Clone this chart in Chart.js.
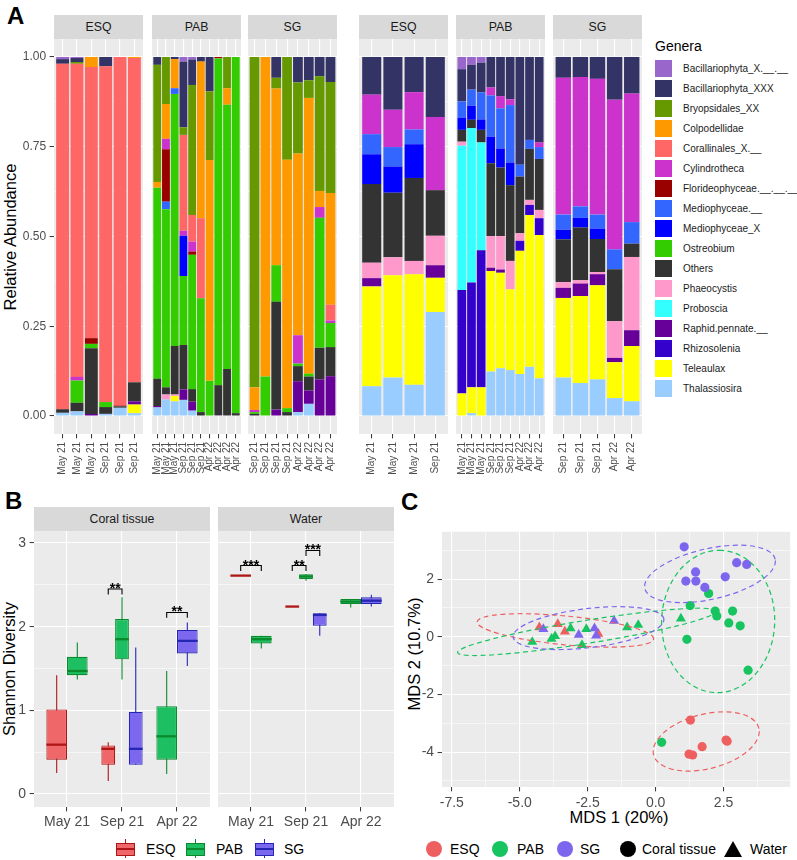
<!DOCTYPE html>
<html>
<head>
<meta charset="utf-8">
<title>Microeukaryote genera, Shannon diversity and MDS</title>
<script src="https://cdn.jsdelivr.net/npm/chart.js@4.4.1/dist/chart.umd.min.js"></script>
<style>
  body { margin: 0; background: #fff; font-family: "Liberation Sans", Arial, sans-serif; }
  #fig { position: relative; width: 797px; height: 860px; overflow: hidden; background: #fff; }
  #fig canvas { position: absolute; }
  .tag { position: absolute; font-size: 24px; font-weight: bold; line-height: 24px; color: #000; }
  .strip { position: absolute; background: #D9D9D9; color: #1A1A1A; font-size: 12.3px; height: 24px; line-height: 24px; text-align: center; }
  .axtitle { position: absolute; font-size: 16.5px; color: #000; white-space: nowrap; transform: translate(-50%, -50%); }
  .axtitle.rot { transform: translate(-50%, -50%) rotate(-90deg); }
  .leg { position: absolute; font-size: 14px; line-height: 16px; color: #000; white-space: nowrap; }
  .gkey { position: absolute; width: 17px; height: 17px; }
  .glab { position: absolute; font-size: 10px; line-height: 17px; color: #1A1A1A; white-space: nowrap; }
  .dot { position: absolute; width: 16px; height: 16px; border-radius: 50%; }
</style>
</head>
<body>
<div id="fig">
  <div class="tag" style="left:7px;top:4px">A</div>
  <div class="tag" style="left:5px;top:489px">B</div>
  <div class="tag" style="left:401px;top:490px">C</div>

  <div class="axtitle rot" style="left:10px;top:237px">Relative Abundance</div>
  <div class="axtitle rot" style="left:9px;top:669px">Shannon Diversity</div>
  <div class="axtitle rot" style="left:414px;top:654px">MDS 2 (10.7%)</div>
  <div class="axtitle" style="left:619px;top:817px">MDS 1 (20%)</div>

  <div class="leg" style="left:655px;top:38px;font-size:14px">Genera</div>
</div>

<script>
// ---------- Panel A: relative abundance per sample ----------
// facets: coral ESQ, coral PAB, coral SG, water ESQ, water PAB, water SG
const facetNames = ['ESQ', 'PAB', 'SG', 'ESQ', 'PAB', 'SG'];
const facetSizes = [6, 10, 8, 4, 9, 5];
const sampleLabels = [
  'May 21', 'May 21', 'May 21', 'Sep 21', 'Sep 21', 'Sep 21',
  'May 21', 'May 21', 'May 21', 'Sep 21', 'Sep 21', 'Sep 21', 'Apr 22', 'Apr 22', 'Apr 22', 'Apr 22',
  'Sep 21', 'Sep 21', 'Sep 21', 'Sep 21', 'Apr 22', 'Apr 22', 'Apr 22', 'Apr 22',
  'May 21', 'May 21', 'May 21', 'Sep 21',
  'May 21', 'May 21', 'May 21', 'Sep 21', 'Sep 21', 'Sep 21', 'Apr 22', 'Apr 22', 'Apr 22',
  'Sep 21', 'Sep 21', 'Sep 21', 'Apr 22', 'Apr 22'
];

// one value per sample, in the sample order above
const bacillariophytaX = [.006,.003,0,0,0,0,  0,0,0,.013,.007,0,0,0,0,0,  0,0,0,0,0,0,0,0,  0,0,0,0,  .034,.022,.016,0,0,0,0,0,0,  0,0,0,0,0];
const bacillariophytaXXX = [.013,.011,0,.026,0,0,  .022,0,.006,.183,.071,.013,.096,0,0,0,  0,0,.058,0,.071,.065,.054,.070,  .105,.147,.098,.167,  .090,.069,.083,.085,.109,.118,.300,.231,.238,  .058,.056,.061,.119,.102];
const bryopsidales = [0,.005,0,0,0,0,  .326,.131,0,.021,.362,0,.191,0,.087,0,  .920,0,.030,.286,.198,.049,.319,.309,  0,0,0,0,  0,0,0,0,0,0,0,0,0,  0,0,0,0,0];
const colpodellidae = [0,0,.028,0,0,.003,  .016,.097,.081,0,0,.436,.615,0,.046,0,  .063,.890,.492,.692,.506,.768,.045,.311,  0,0,0,0,  0,0,0,0,0,0,0,0,0,  0,0,0,0,0];
const corallinales = [.962,.872,.755,.935,.971,.903,  0,0,0,.267,.074,.223,0,0,0,0,  0,0,0,0,0,0,0,.044,  0,0,0,0,  0,0,0,0,0,0,0,0,0,  0,0,0,0,0];
const cylindrotheca = [0,.010,0,0,0,0,  0,.029,0,.014,.028,0,0,0,0,0,  .006,0,0,0,.079,0,.030,.007,  .110,.104,.104,.204,  0,0,0,.022,.034,.016,0,0,.013,  .381,.360,.378,.417,.358];
const florideophyceae = [0,0,.016,0,.002,0,  0,.146,0,0,.009,0,0,.004,0,0,  0,0,0,0,0,0,0,0,  0,0,0,0,  0,0,0,0,0,0,0,0,0,  0,0,0,0,0];
const mediophyceaeDot = [0,0,0,0,0,0,  0,.021,.016,0,0,0,0,0,0,0,  0,0,0,0,0,0,0,0,  .056,.054,.041,0,  .045,.045,.075,.115,.112,.160,.033,.025,.033,  .042,.032,.039,.055,.060];
const mediophyceaeX = [0,0,0,0,0,0,  0,0,0,.112,0,0,0,0,0,0,  0,0,0,0,0,0,0,0,  .083,.073,.094,0,  .034,.039,.029,.074,.053,.063,0,0,0,  .027,.027,.029,0,0];
const ostreobium = [0,.062,.012,.014,0,0,  .532,.496,.702,.192,.374,.317,.098,.910,.736,.992,  .005,.110,.102,.011,.007,.008,.362,.067,  0,0,0,0,  0,0,0,0,0,0,0,0,0,  0,0,0,0,0];
const others = [.010,.024,.183,.019,.004,.053,  .076,.020,.135,.124,.035,.011,0,.084,.131,.008,  .006,0,.300,.011,.042,.039,.088,.081,  .219,.180,.231,.127,  .033,.023,.035,.203,.191,.211,.158,.142,.142,  .119,.147,.092,.145,.037];
const phaeocystis = [0,0,0,0,0,0,  0,.014,.004,0,0,0,0,0,0,0,  0,0,0,0,0,0,0,0,  .043,.050,.037,.082,  .011,0,0,.088,.093,.079,.021,.014,.023,  .016,.009,.006,.102,.204];
const proboscia = [0,0,0,0,0,0,  0,0,0,0,0,0,0,0,0,0,  0,0,0,0,0,0,0,0,  0,0,0,0,  .402,.430,.300,0,0,0,0,0,0,  0,0,0,0,0];
const raphidPennate = [0,0,.006,0,0,.009,  .004,0,0,.029,.025,0,0,.002,0,0,  0,0,.018,0,.086,.037,.102,.111,  .023,0,0,.035,  0,0,0,.009,.009,0,0,0,0,  .028,.035,.031,.012,.044];
const rhizosolenia = [0,0,0,0,0,0,  0,0,0,0,0,0,0,0,0,0,  0,0,0,0,0,0,0,0,  0,0,0,0,  .288,.292,.382,0,0,0,.028,.028,.047,  0,0,0,0,0];
const teleaulax = [0,0,0,0,0,.024,  0,0,.015,0,0,0,0,0,0,0,  0,0,0,0,0,0,0,0,  .278,.285,.308,.095,  .063,.072,.080,.280,.266,.225,.343,.423,.399,  .222,.242,.262,.100,.154];
const thalassiosira = [.009,.013,0,.006,.023,.008,  .024,.046,.041,.045,.015,0,0,0,0,0,  0,0,0,0,.011,.034,0,0,  .083,.107,.087,.290,  0,.008,0,.124,.133,.128,.117,.137,.105,  .107,.092,.102,.050,.041];

const generaNames = ['Bacillariophyta_X.__.__', 'Bacillariophyta_XXX', 'Bryopsidales_XX', 'Colpodellidae',
  'Corallinales_X.__', 'Cylindrotheca', 'Florideophyceae.__.__.__', 'Mediophyceae.__', 'Mediophyceae_X',
  'Ostreobium', 'Others', 'Phaeocystis', 'Proboscia', 'Raphid.pennate.__', 'Rhizosolenia', 'Teleaulax', 'Thalassiosira'];
const generaValues = [bacillariophytaX, bacillariophytaXXX, bryopsidales, colpodellidae, corallinales, cylindrotheca,
  florideophyceae, mediophyceaeDot, mediophyceaeX, ostreobium, others, phaeocystis, proboscia, raphidPennate,
  rhizosolenia, teleaulax, thalassiosira];
const generaColors = ['#9966CC', '#333366', '#669900', '#FF9900', '#FF6666', '#CC33CC', '#990000', '#3366FF', '#0000FF',
  '#33CC00', '#333333', '#FF99CC', '#33FFFF', '#660099', '#3300CC', '#FFFF00', '#99CCFF'];

const abundanceTicks = [0, 0.125, 0.25, 0.375, 0.5, 0.625, 0.75, 0.875, 1];
const abundanceMajor = [0, 0.25, 0.5, 0.75, 1];

// ---------- Panel B: Shannon diversity, [lower whisker, Q1, median, Q3, upper whisker] ----------
const timepoints = ['May 21', 'Sep 21', 'Apr 22'];
const sites = ['ESQ', 'PAB', 'SG'];
const coralESQ = [[0.25, 0.41, 0.59, 1.01, 1.42], [0.155, 0.35, 0.54, 0.58, 0.62], null];
const coralPAB = [[1.37, 1.42, 1.47, 1.64, 1.81], [1.37, 1.61, 1.85, 2.09, 2.35], [0.24, 0.41, 0.69, 1.05, 1.47]];
const coralSG = [null, [0.35, 0.35, 0.54, 0.98, 1.75], [1.53, 1.68, 1.83, 1.96, 2.05]];
const waterESQ = [[2.61, 2.61, 2.61, 2.61, 2.61], [2.24, 2.24, 2.24, 2.24, 2.24], null];
const waterPAB = [[1.74, 1.80, 1.85, 1.89, 1.89], [2.55, 2.57, 2.60, 2.625, 2.63], [2.23, 2.27, 2.30, 2.33, 2.33]];
const waterSG = [null, [1.89, 2.01, 2.14, 2.16, 2.16], [2.24, 2.27, 2.31, 2.35, 2.38]];
// significance brackets: panel (0 coral, 1 water), timepoint, site from/to, height, label
const sigBrackets = [
  {panel: 0, time: 1, from: 0, to: 1, y: 2.45, label: '**'},
  {panel: 0, time: 2, from: 1, to: 2, y: 2.17, label: '**'},
  {panel: 1, time: 0, from: 0, to: 1, y: 2.73, label: '***'},
  {panel: 1, time: 1, from: 0, to: 1, y: 2.73, label: '**'},
  {panel: 1, time: 1, from: 1, to: 2, y: 2.91, label: '***'}
];
const diversityTicks = [0, 0.5, 1, 1.5, 2, 2.5, 3];
const diversityMajor = [0, 1, 2, 3];

// ---------- Panel C: MDS coordinates [MDS1, MDS2] ----------
const mdsCoralESQ = [[1.28, -2.89], [1.23, -4.07], [1.36, -4.10], [1.71, -3.81], [2.59, -3.58], [2.63, -3.62]];
const mdsCoralPAB = [[1.95, 1.50], [1.27, 1.08], [2.19, 0.89], [2.25, 0.72], [2.83, 0.89], [2.69, 0.48], [3.11, 0.38], [1.15, -0.09], [3.40, -1.16], [0.22, -3.66]];
const mdsCoralSG = [[1.05, 3.12], [1.11, 1.93], [1.47, 2.25], [1.48, 1.93], [1.81, 1.71], [2.56, 2.08], [2.98, 2.57], [3.35, 2.51]];
const mdsWaterESQ = [[-4.28, 0.33], [-3.60, 0.44], [-3.34, 0.18], [-2.11, 0.10]];
const mdsWaterPAB = [[-4.54, -0.18], [-3.83, -0.07], [-3.70, 0.02], [-3.13, 0.29], [-2.71, -0.29], [-2.55, 0.27], [-1.05, 0.33], [-0.64, 0.41], [0.93, 0.63]];
const mdsWaterSG = [[-4.13, 0.27], [-2.83, 0.07], [-2.25, 0.29], [-2.19, 0.04], [-1.53, 0.55]];
// ellipse outlines: centre x, centre y, semi-axis a, semi-axis b, tilt in degrees
const ellipseCoralESQ = [1.86, -3.63, 1.99, 0.95, 13];
const ellipseWaterESQ = [-3.32, 0.22, 3.26, 0.50, -5.2];
const ellipseCoralPAB = [2.30, 0.53, 2.47, 2.08, 87];
const ellipseWaterPAB = [-2.53, 0.17, 4.81, 0.40, 8.6];
const ellipseCoralSG = [2.00, 2.18, 2.45, 0.88, 11.8];
const ellipseWaterSG = [-2.47, 0.30, 2.79, 0.68, 6.4];
const mdsXTicks = [-7.5, -6.25, -5, -3.75, -2.5, -1.25, 0, 1.25, 2.5, 3.75];
const mdsXMajor = [-7.5, -5, -2.5, 0, 2.5];
const mdsYTicks = [-5, -4, -3, -2, -1, 0, 1, 2, 3];
const mdsYMajor = [-4, -2, 0, 2];

// ---------- styling ----------
const siteFill = ['#F0676A', '#1DBF62', '#7B68EE'];
const siteLine = ['#B01515', '#0B8A2C', '#2626B4'];
const sitePoint = ['#EE6060', '#18C460', '#7D66EE'];

Chart.defaults.font.family = '"Liberation Sans", Arial, sans-serif';
Chart.defaults.color = '#4D4D4D';
Chart.defaults.animation = false;
Chart.defaults.plugins.legend.display = false;
Chart.defaults.plugins.tooltip.enabled = false;

const fig = document.getElementById('fig');

function addCanvas(left, top, w, h) {
  const c = document.createElement('canvas');
  c.width = w; c.height = h;
  c.style.left = left + 'px'; c.style.top = top + 'px';
  c.style.width = w + 'px'; c.style.height = h + 'px';
  fig.appendChild(c);
  return c;
}

function addDiv(cls, text, css) {
  const d = document.createElement('div');
  d.className = cls;
  d.textContent = text;
  Object.assign(d.style, css);
  fig.appendChild(d);
  return d;
}

const near = (list, v) => list.some(m => Math.abs(m - v) < 1e-9);

const panelBg = {
  id: 'panelBg',
  beforeDraw(chart) {
    const {ctx, chartArea: a} = chart;
    ctx.save();
    ctx.fillStyle = '#EBEBEB';
    ctx.fillRect(a.left, a.top, a.right - a.left, a.bottom - a.top);
    ctx.restore();
  }
};

// value axis with ggplot-like major/minor grid
function valueAxis(o) {
  return {
    type: 'linear', bounds: 'data', min: o.min, max: o.max, stacked: !!o.stacked,
    afterBuildTicks: s => { s.ticks = o.ticks.map(v => ({value: v})); },
    afterFit: s => {
      if (s.isHorizontal()) { s.height = o.size; s.paddingLeft = 0; s.paddingRight = 0; }
      else { s.width = o.size; s.paddingTop = 0; s.paddingBottom = 0; }
    },
    border: {display: false},
    grid: {
      color: '#FFFFFF',
      lineWidth: c => (c.tick && near(o.major, c.tick.value)) ? 1.1 : 0.55,
      drawTicks: o.labels,
      tickLength: 4.4,
      tickWidth: 1,
      tickColor: c => (c.tick && near(o.major, c.tick.value)) ? '#333333' : 'rgba(0,0,0,0)'
    },
    ticks: {
      display: o.labels, autoSkip: false, padding: 3.5, color: '#4D4D4D',
      font: {size: o.fontSize || 14},
      callback: v => near(o.major, v) ? o.fmt(v) : ''
    }
  };
}

// discrete axis placed on a linear scale so the ggplot 0.6 expansion can be kept
function discreteAxis(labels, o) {
  return {
    type: 'linear', bounds: 'data', min: 0.4, max: labels.length + 0.6,
    offset: false, stacked: !!o.stacked,
    afterBuildTicks: s => { s.ticks = labels.map((_, i) => ({value: i + 1})); },
    afterFit: s => { s.height = o.size; s.paddingLeft = 0; s.paddingRight = 0; },
    border: {display: false},
    grid: {offset: false, color: '#FFFFFF', lineWidth: 1.1, tickLength: 4.4, tickWidth: 1, tickColor: '#333333'},
    ticks: {
      autoSkip: false, padding: o.padding, color: '#4D4D4D', font: {size: o.fontSize},
      minRotation: o.rotation, maxRotation: o.rotation,
      callback: v => labels[Math.round(v) - 1]
    }
  };
}

// ---------- Panel A ----------
const facetLeft = [54, 152, 248, 359, 456, 553];
const facetW = 89;
const aTop = 39, aPanelH = 395, aAxisH = 45;
let offset = 0;
facetSizes.forEach((n, f) => {
  const labels = sampleLabels.slice(offset, offset + n);
  const first = f === 0;
  addDiv('strip', facetNames[f], {left: facetLeft[f] + 'px', top: '15px', width: facetW + 'px'});
  const datasets = [];
  for (let g = generaNames.length - 1; g >= 0; g--) {
    datasets.push({
      label: generaNames[g],
      data: generaValues[g].slice(offset, offset + n).map((v, i) => ({x: i + 1, y: v})),
      backgroundColor: generaColors[g],
      borderWidth: 0,
      barPercentage: 0.9,
      categoryPercentage: 1
    });
  }
  const yW = first ? 54 : 0;
  const cv = addCanvas(facetLeft[f] - yW, aTop, facetW + yW, aPanelH + aAxisH);
  new Chart(cv, {
    type: 'bar',
    data: {datasets},
    options: {
      responsive: false,
      layout: {padding: 0},
      scales: {
        x: discreteAxis(labels, {size: aAxisH, fontSize: 10, rotation: 90, padding: 3.5, stacked: true}),
        y: valueAxis({min: -0.05, max: 1.05, ticks: abundanceTicks, major: abundanceMajor, size: yW,
          labels: first, fontSize: 12, stacked: true, fmt: v => v.toFixed(2)})
      }
    },
    plugins: [panelBg]
  });
  offset += n;
});

// genera legend
generaNames.forEach((name, i) => {
  const top = 59.5 + i * 20;
  addDiv('gkey', '', {left: '655px', top: top + 'px', background: generaColors[i]});
  addDiv('glab', name, {left: '683px', top: top + 'px'});
});

// ---------- Panel B ----------
function boxParts(panel) {
  return {
    id: 'boxParts',
    beforeDatasetsDraw(chart) {
      const {ctx} = chart;
      const y = chart.scales.y;
      ctx.save();
      chart.data.datasets.forEach((ds, i) => {
        chart.getDatasetMeta(i).data.forEach((bar, j) => {
          const s = ds.stats[j];
          if (!s) return;
          ctx.strokeStyle = ds.borderColor;
          ctx.lineWidth = 1.1;
          ctx.beginPath();
          ctx.moveTo(bar.x, y.getPixelForValue(s[0]));
          ctx.lineTo(bar.x, y.getPixelForValue(s[4]));
          ctx.stroke();
        });
      });
      ctx.restore();
    },
    afterDatasetsDraw(chart) {
      const {ctx} = chart;
      const y = chart.scales.y;
      ctx.save();
      chart.data.datasets.forEach((ds, i) => {
        chart.getDatasetMeta(i).data.forEach((bar, j) => {
          const s = ds.stats[j];
          if (!s) return;
          const py = y.getPixelForValue(s[2]);
          ctx.strokeStyle = ds.borderColor;
          ctx.lineWidth = 2.3;
          ctx.beginPath();
          ctx.moveTo(bar.x - bar.width / 2, py);
          ctx.lineTo(bar.x + bar.width / 2, py);
          ctx.stroke();
        });
      });
      sigBrackets.filter(b => b.panel === panel).forEach(b => {
        const x1 = chart.getDatasetMeta(b.from).data[b.time].x;
        const x2 = chart.getDatasetMeta(b.to).data[b.time].x;
        const yl = y.getPixelForValue(b.y);
        const yt = y.getPixelForValue(b.y - 0.065);
        ctx.strokeStyle = '#000';
        ctx.lineWidth = 1.1;
        ctx.beginPath();
        ctx.moveTo(x1, yt); ctx.lineTo(x1, yl); ctx.lineTo(x2, yl); ctx.lineTo(x2, yt);
        ctx.stroke();
        ctx.fillStyle = '#000';
        ctx.font = 'bold 14px "Liberation Sans", Arial, sans-serif';
        ctx.textAlign = 'center';
        ctx.textBaseline = 'alphabetic';
        ctx.fillText(b.label, (x1 + x2) / 2, yl + 4);
      });
      ctx.restore();
    }
  };
}

const boxPanels = [
  {name: 'Coral tissue', left: 34, stats: [coralESQ, coralPAB, coralSG]},
  {name: 'Water', left: 218, stats: [waterESQ, waterPAB, waterSG]}
];
const bTop = 531, bPanelH = 276, bAxisH = 30, bPanelW = 176;
boxPanels.forEach((p, k) => {
  addDiv('strip', p.name, {left: p.left + 'px', top: '507px', width: bPanelW + 'px'});
  const yW = k === 0 ? 34 : 0;
  const cv = addCanvas(p.left - yW, bTop, bPanelW + yW, bPanelH + bAxisH);
  new Chart(cv, {
    type: 'bar',
    data: {
      datasets: sites.map((site, i) => ({
        label: site,
        stats: p.stats[i],
        data: timepoints.map((t, j) => ({x: j + 1, y: p.stats[i][j] ? [p.stats[i][j][1], p.stats[i][j][3]] : null})),
        backgroundColor: siteFill[i],
        borderColor: siteLine[i],
        borderWidth: 1.1,
        borderSkipped: false,
        barPercentage: 1,
        categoryPercentage: 0.75,
        skipNull: true
      }))
    },
    options: {
      responsive: false,
      layout: {padding: 0},
      scales: {
        x: discreteAxis(timepoints, {size: bAxisH, fontSize: 14, rotation: 0, padding: 2}),
        y: valueAxis({min: -0.155, max: 3.143, ticks: diversityTicks, major: diversityMajor, size: yW,
          labels: k === 0, fontSize: 14, fmt: v => String(v)})
      }
    },
    plugins: [panelBg, boxParts(k)]
  });
});

// box legend
sites.forEach((site, i) => {
  const left = [116, 186, 255][i];
  addDiv('abs', '', {position: 'absolute', left: (left + 9) + 'px', top: '839px', width: '1px', height: '19px', background: siteLine[i]});
  addDiv('abs', '', {position: 'absolute', left: left + 'px', top: '843px', width: '17px', height: '11px',
    background: siteFill[i], border: '1px solid ' + siteLine[i]});
  addDiv('abs', '', {position: 'absolute', left: left + 'px', top: '848px', width: '19px', height: '2px', background: siteLine[i]});
  addDiv('leg', site, {left: [146, 216, 284][i] + 'px', top: '841px'});
});

// ---------- Panel C ----------
const mdsGroups = [
  {site: 2, shape: 'triangle', pts: mdsWaterSG},
  {site: 2, shape: 'circle', pts: mdsCoralSG},
  {site: 1, shape: 'triangle', pts: mdsWaterPAB},
  {site: 1, shape: 'circle', pts: mdsCoralPAB},
  {site: 0, shape: 'triangle', pts: mdsWaterESQ},
  {site: 0, shape: 'circle', pts: mdsCoralESQ}
];
const mdsEllipses = [
  {site: 0, e: ellipseCoralESQ}, {site: 0, e: ellipseWaterESQ},
  {site: 1, e: ellipseCoralPAB}, {site: 1, e: ellipseWaterPAB},
  {site: 2, e: ellipseCoralSG}, {site: 2, e: ellipseWaterSG}
];

const ellipsePlugin = {
  id: 'ellipses',
  afterDatasetsDraw(chart) {
    const {ctx, chartArea: a} = chart;
    const {x, y} = chart.scales;
    const sx = x.getPixelForValue(1) - x.getPixelForValue(0);
    const sy = y.getPixelForValue(0) - y.getPixelForValue(1);
    ctx.save();
    ctx.beginPath();
    ctx.rect(a.left, a.top, a.right - a.left, a.bottom - a.top);
    ctx.clip();
    mdsEllipses.forEach(({site, e}) => {
      ctx.save();
      ctx.translate(x.getPixelForValue(e[0]), y.getPixelForValue(e[1]));
      ctx.scale(sx, -sy);
      ctx.rotate(e[4] * Math.PI / 180);
      ctx.beginPath();
      ctx.ellipse(0, 0, e[2], e[3], 0, 0, Math.PI * 2);
      ctx.restore();
      ctx.strokeStyle = sitePoint[site];
      ctx.lineWidth = 1.2;
      ctx.setLineDash([5, 3.5]);
      ctx.stroke();
    });
    ctx.restore();
  }
};

const cv = addCanvas(401, 526, 395, 261 + 22);
new Chart(cv, {
  type: 'scatter',
  data: {
    datasets: mdsGroups.map(g => ({
      label: sites[g.site] + ' ' + g.shape,
      data: g.pts.map(p => ({x: p[0], y: p[1]})),
      pointStyle: g.shape,
      pointRadius: g.shape === 'circle' ? 4.6 : 5.8,
      backgroundColor: sitePoint[g.site],
      pointBorderWidth: 0
    }))
  },
  options: {
    responsive: false,
    layout: {padding: 0},
    scales: {
      x: valueAxis({min: -7.86, max: 4.95, ticks: mdsXTicks, major: mdsXMajor, size: 22, labels: true,
        fontSize: 14, fmt: v => v.toFixed(1)}),
      y: valueAxis({min: -5.21, max: 3.64, ticks: mdsYTicks, major: mdsYMajor, size: 41, labels: true,
        fontSize: 14, fmt: v => String(v)})
    }
  },
  plugins: [panelBg, ellipsePlugin]
});

// point legend
sites.forEach((site, i) => {
  addDiv('dot', '', {left: [426, 492, 557][i] + 'px', top: '841px', background: sitePoint[i]});
  addDiv('leg', site, {left: [450, 517, 580][i] + 'px', top: '841px'});
});
addDiv('dot', '', {left: '620px', top: '841px', background: '#000'});
addDiv('leg', 'Coral tissue', {left: '642px', top: '841px'});
addDiv('abs', '', {position: 'absolute', left: '724px', top: '841px', width: '0', height: '0',
  borderLeft: '9px solid transparent', borderRight: '9px solid transparent', borderBottom: '16px solid #000'});
addDiv('leg', 'Water', {left: '750px', top: '841px'});
</script>
</body>
</html>
